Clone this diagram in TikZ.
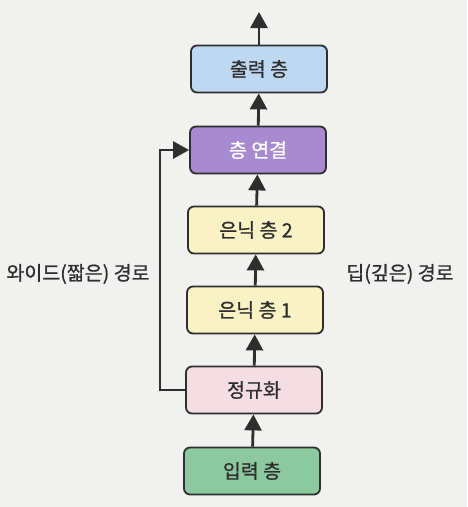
\documentclass[tikz,border=0pt]{standalone}
\usepackage{fontspec}
\setmainfont{Noto Sans CJK KR}[FakeBold=0.8]
\usetikzlibrary{arrows.meta}
\definecolor{bg}{HTML}{F1F1EF}
\definecolor{outc}{HTML}{BFD8F2}
\definecolor{catc}{HTML}{A88AD0}
\definecolor{hidc}{HTML}{F8F2C4}
\definecolor{normc}{HTML}{F4DEE3}
\definecolor{inc}{HTML}{8CC9A0}
\definecolor{ink}{HTML}{2E2E2E}
\begin{document}
\begin{tikzpicture}[x=1pt,y=-1pt,
  layer/.style={draw=ink, line width=1.8pt, rounded corners=6pt, minimum width=136pt, minimum height=47pt, inner sep=0pt, font=\fontsize{19.5}{22}\selectfont, text=ink},
  conn/.style={draw=ink, line width=2.8pt, -{Triangle[length=16pt,width=17pt]}},
  lab/.style={font=\fontsize{19.5}{22}\selectfont, text=ink}]
\fill[bg] (0,0) rectangle (467,507);
\useasboundingbox (0,0) rectangle (467,507);
\node[layer, fill=outc] (out) at (259,69) {출력 층};
\node[layer, fill=catc, text=white] (cat) at (258,150) {층 연결};
\node[layer, fill=hidc] (h2) at (256,230) {은닉 층 2};
\node[layer, fill=hidc] (h1) at (255,310) {은닉 층 1};
\node[layer, fill=normc] (norm) at (254,390) {정규화};
\node[layer, fill=inc] (in) at (252,471) {입력 층};
\coordinate (top) at (259,12);
\coordinate (wl) at (160,390);
\draw[conn] (in) -- (norm);
\draw[conn] (norm) -- (h1);
\draw[conn] (h1) -- (h2);
\draw[conn] (h2) -- (cat);
\draw[conn] (cat) -- (out);
\draw[conn] (out.north) -- (top);
\draw[conn] (norm.west) -- (wl) |- (cat.west);
\node[lab] (wide) at (78,274) {와이드(짧은) 경로};
\node[lab] (deep) at (400,274) {딥(깊은) 경로};
\end{tikzpicture}
\end{document}
